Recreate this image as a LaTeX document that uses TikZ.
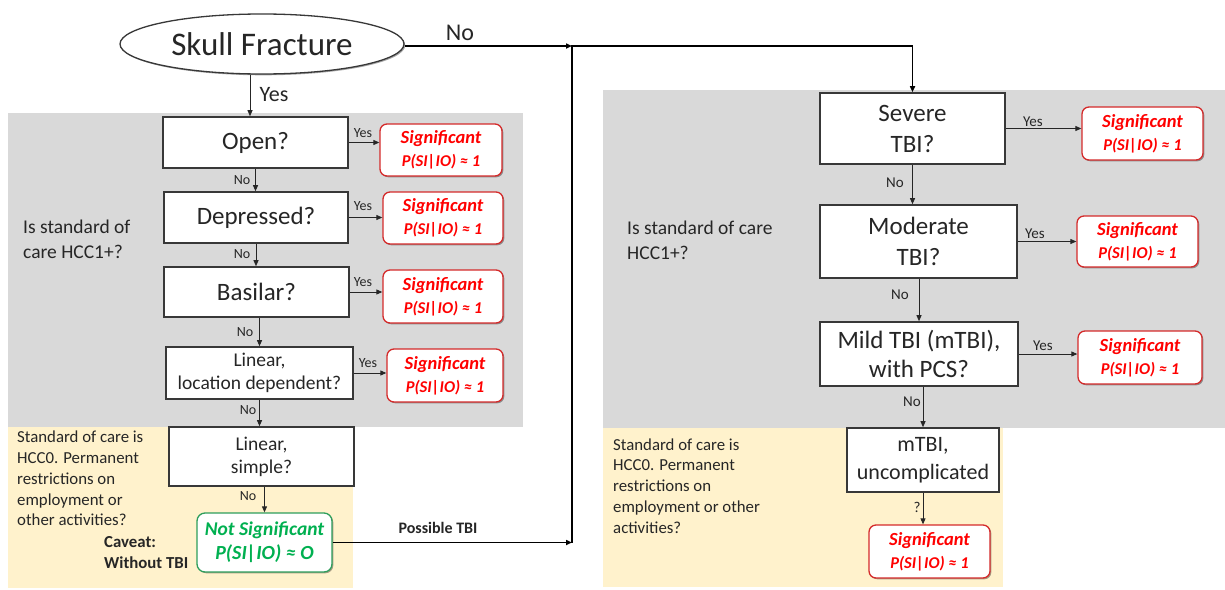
\documentclass[tikz,border=0pt]{standalone}
\usepackage{fontspec}
\setmainfont{Carlito}
\usetikzlibrary{shapes.geometric,arrows.meta,shadows,calc}

\definecolor{panelgray}{HTML}{D9D9D9}
\definecolor{panelcream}{HTML}{FFF2CC}
\definecolor{sigred}{HTML}{FF0000}
\definecolor{sigedge}{HTML}{D42A2A}
\definecolor{nsgreen}{HTML}{00B050}
\definecolor{nsedge}{HTML}{2E9E5B}
\definecolor{edge}{HTML}{383838}
\definecolor{ink}{HTML}{262626}

\newcommand{\fsz}[2]{\fontsize{#1}{#2}\selectfont}

\begin{document}
\begin{tikzpicture}[x=1pt,y=-1pt,
  softshadow/.style={drop shadow={shadow xshift=1.3pt, shadow yshift=-1.3pt, opacity=0.35, fill=black}},
  qbox/.style={draw=edge, line width=1.6pt, fill=white, align=center, inner sep=0pt,
    text=ink, softshadow},
  sigbox/.style={draw=sigedge, line width=1.3pt, fill=white, rounded corners=7pt, align=center,
    inner sep=0pt, text=sigred, font=\bfseries\itshape\fsz{18.5}{23}, softshadow},
  nsbox/.style={draw=nsedge, line width=1.3pt, fill=white, rounded corners=8pt, align=center,
    inner sep=0pt, text=nsgreen, font=\bfseries\itshape\fsz{19.5}{24}, softshadow},
  flow/.style={draw=ink, line width=0.9pt, -{Triangle[length=6pt,width=5pt]}},
  route/.style={draw=black, line width=1.6pt},
  tip/.style={-{Triangle[length=6pt,width=5pt]}},
  small/.style={text=ink, inner sep=0pt, font=\fsz{14}{16}},
  smallr/.style={text=ink, inner sep=0pt, font=\fsz{15}{17}},
  note/.style={text=ink, inner sep=0pt, align=left, anchor=west},
]
% canvas
\useasboundingbox (0,0) rectangle (1225,589);
\fill[white] (0,0) rectangle (1225,589);

% background bands
\fill[panelgray]  (8,113)  rectangle (523,427);
\fill[panelcream] (8,427)  rectangle (353,588);
\fill[panelgray]  (603,90) rectangle (1225,428);
\fill[panelcream] (603,428) rectangle (1003,587);

% start
\node[ellipse, draw=edge, line width=1.3pt, fill=white, minimum width=284pt, minimum height=60pt,
  inner sep=0pt, text=ink, softshadow, font=\fsz{33}{36}] (skull) at (262,44) {Skull Fracture};

% skull fracture branch
\node[qbox, font=\fsz{25}{30}, minimum width=185pt, minimum height=51pt] (open)  at (255.5,142.5) {Open?};
\node[qbox, font=\fsz{25}{30}, minimum width=184pt, minimum height=51pt] (depr)  at (256,217.5) {Depressed?};
\node[qbox, font=\fsz{25}{30}, minimum width=185pt, minimum height=50pt] (basil) at (256.5,292) {Basilar?};
\node[qbox, font=\fsz{19.5}{23}, minimum width=187pt, minimum height=52pt] (linloc) at (259.5,373) {Linear,\\location dependent?};
\node[qbox, font=\fsz{19.5}{23}, minimum width=185pt, minimum height=59pt] (linsim) at (261.5,456.5) {Linear,\\simple?};
\node[nsbox, minimum width=135pt, minimum height=59pt] (notsig) at (264.5,542.5) {Not Significant\\{\fsz{20}{24}P(SI|IO) ≈ O}};

\node[sigbox, minimum width=122pt, minimum height=52pt] (s1) at (441,150) {Significant\\{\fsz{16.5}{23}P(SI|IO) ≈ 1}};
\node[sigbox, minimum width=120pt, minimum height=52pt] (s2) at (443,218) {Significant\\{\fsz{16.5}{23}P(SI|IO) ≈ 1}};
\node[sigbox, minimum width=120pt, minimum height=53pt] (s3) at (443,296.5) {Significant\\{\fsz{16.5}{23}P(SI|IO) ≈ 1}};
\node[sigbox, minimum width=116pt, minimum height=53pt] (s4) at (445,375.5) {Significant\\{\fsz{16.5}{23}P(SI|IO) ≈ 1}};

% TBI branch
\node[qbox, font=\fsz{25}{31}, minimum width=185pt, minimum height=71pt] (sev)  at (912.5,128.5) {Severe\\TBI?};
\node[qbox, font=\fsz{25}{31}, minimum width=197pt, minimum height=73pt] (mod)  at (918.5,241.5) {Moderate\\TBI?};
\node[qbox, font=\fsz{25}{29}, minimum width=198pt, minimum height=64pt] (mild) at (919,354) {Mild TBI (mTBI),\\with PCS?};
\node[qbox, font=\fsz{22}{28}, minimum width=152pt, minimum height=64pt] (mtbi) at (923,460) {mTBI,\\uncomplicated};

\node[sigbox, minimum width=121pt, minimum height=53pt] (r1) at (1142.5,133.5) {Significant\\{\fsz{16.5}{23}P(SI|IO) ≈ 1}};
\node[sigbox, minimum width=121pt, minimum height=51pt] (r2) at (1137.5,241.5) {Significant\\{\fsz{16.5}{23}P(SI|IO) ≈ 1}};
\node[sigbox, minimum width=124pt, minimum height=53pt] (r3) at (1140,357.5) {Significant\\{\fsz{16.5}{23}P(SI|IO) ≈ 1}};
\node[sigbox, minimum width=121pt, minimum height=53pt] (r4) at (929.5,551.5) {Significant\\{\fsz{16.5}{23}P(SI|IO) ≈ 1}};

% side notes
\node[note, font=\fsz{19.5}{25}] (q1) at (23,239.5) {Is standard of\\care HCC1+?};
\node[note, font=\fsz{19.5}{25}] (q2) at (627,240.5) {Is standard of care\\HCC1+?};
\node[note, font=\fsz{16.8}{20.8}] (c1) at (17,478.5) {Standard of care is\\HCC0. Permanent\\restrictions on\\employment or\\other activities?};
\node[note, font=\fsz{16.8}{20.8}] (c2) at (613,486) {Standard of care is\\HCC0. Permanent\\restrictions on\\employment or other\\activities?};
\node[note, font=\bfseries\fsz{16.8}{21}] (cav) at (104,552.5) {Caveat:\\Without TBI};

% junctions of the main route
\coordinate (jtop) at (572,46);
\coordinate (jbot) at (572,542.5);

% main route
\draw[route, tip] (skull.east |- jtop) -- (jtop);
\draw[route, tip] (notsig.east) -- (jbot);
\draw[route, tip] (jbot) -- (jtop) -- (jtop -| sev.north) -- (sev.north);
\node[inner sep=0pt, text=ink, font=\fsz{24}{28}] (lno) at (460,33) {No};
\node[inner sep=0pt, text=ink, font=\bfseries\fsz{16}{19}] (lptbi) at (438,528) {Possible TBI};

\coordinate (sk) at ($(skull.south)+(-12,0)$);
\draw[flow] (sk) -- (sk |- open.north);
\node[inner sep=0pt, text=ink, font=\fsz{22}{26}] (lyes) at (274,95) {Yes};

% skull fracture questions
\draw[flow] (open.east) -- (open.east -| s1.west);
\draw[flow] (depr.east) -- (depr.east -| s2.west);
\draw[flow] (basil.east) -- (basil.east -| s3.west);
\draw[flow] (linloc.east) -- (linloc.east -| s4.west);
\node[small] at (363,133) {Yes};
\node[small] at (363,206) {Yes};
\node[small] at (363,282) {Yes};
\node[small] at (368,363) {Yes};

\draw[flow] (open.south) -- (open.south |- depr.north);
\draw[flow] (depr.south) -- (depr.south |- basil.north);
\draw[flow] (linloc.north |- basil.south) -- (linloc.north);
\draw[flow] (linloc.south) -- (linloc.south |- linsim.north);
\draw[flow] (notsig.north |- linsim.south) -- (notsig.north);
\node[small] at (242,180) {No};
\node[small] at (242,254) {No};
\node[small] at (245,332) {No};
\node[small] at (248,410) {No};
\node[small] at (248,496) {No};

% TBI questions
\draw[flow] (sev.east) -- (sev.east -| r1.west);
\draw[flow] (mod.east) -- (mod.east -| r2.west);
\draw[flow] (mild.east) -- (mild.east -| r3.west);
\node[smallr] at (1033,122) {Yes};
\node[smallr] at (1035,234) {Yes};
\node[smallr] at (1043,346) {Yes};

\draw[flow] (sev.south) -- (sev.south |- mod.north);
\draw[flow] (mild.north |- mod.south) -- (mild.north);
\draw[flow] (mtbi.north |- mild.south) -- (mtbi.north);
\draw[flow] (mtbi.south) -- (mtbi.south |- r4.north);
\node[smallr] at (895,183) {No};
\node[smallr] at (900,295) {No};
\node[smallr] at (912,402) {No};
\node[smallr] at (917,507) {?};
\end{tikzpicture}
\end{document}
